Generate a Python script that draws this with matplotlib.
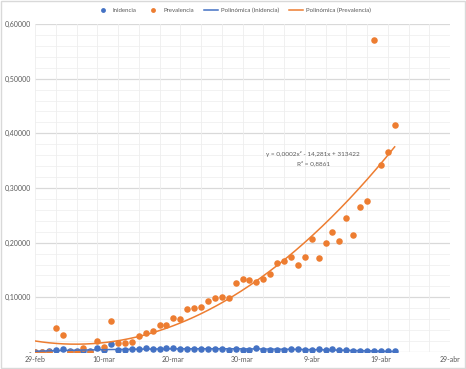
import numpy as np
import matplotlib
matplotlib.use("Agg")
import matplotlib.pyplot as plt
from matplotlib.lines import Line2D
from matplotlib.patches import Rectangle

plt.rcParams['font.family'] = ['Lato', 'DejaVu Sans']

# days since 29-feb (2020)
days = list(range(53))

incidencia = [0.0, 0.0, 0.001, 0.0037, 0.006, 0.001, 0.001, 0.002, 0.002, 0.0073,
              0.0037, 0.014, 0.004, 0.004, 0.005, 0.005, 0.007, 0.006, 0.005, 0.0066,
              0.0079, 0.0055, 0.0055, 0.0055, 0.0055, 0.006, 0.0061, 0.0049, 0.0043, 0.0049,
              0.0043, 0.0031, 0.0073, 0.0043, 0.0043, 0.0043, 0.0043, 0.0061, 0.0049, 0.0043,
              0.0043, 0.0061, 0.0043, 0.0061, 0.0043, 0.0031, 0.0024, 0.0024, 0.0018, 0.0018,
              0.0012, 0.0012, 0.0012]

prevalencia = [0.0, 0.0, 0.0, 0.0435, 0.032, 0.0, 0.0, 0.008, 0.0, 0.021,
               0.010, 0.056, 0.016, 0.016, 0.018, 0.029, 0.0355, 0.0385, 0.050, 0.050,
               0.062, 0.0605, 0.078, 0.080, 0.083, 0.094, 0.0985, 0.1015, 0.0985, 0.126,
               0.133, 0.1315, 0.128, 0.134, 0.142, 0.163, 0.1657, 0.1743, 0.1596, 0.1731,
               0.2067, 0.1725, 0.1988, 0.2202, 0.2024, 0.2446, 0.2135, 0.2648, 0.2765, 0.571,
               0.342, 0.366, 0.415]

tick_days = [0, 10, 20, 30, 40, 50, 60]
tick_labels = ["29-feb", "10-mar", "20-mar", "30-mar", "9-abr", "19-abr", "29-abr"]
y_ticks = [0.0, 0.1, 0.2, 0.3, 0.4, 0.5, 0.6]
y_labels = ["-", "0,10000", "0,20000", "0,30000", "0,40000", "0,50000", "0,60000"]

legend_labels = ["Inidencia", "Prevalencia", "Polinómica (Inidencia)", "Polinómica (Prevalencia)"]
equation_text = "y = 0,0002x² - 14,281x + 313422"
r2_text = "R² = 0,8861"

BLUE = "#4472C4"
ORANGE = "#ED7D31"
TXT = "#595959"

fig = plt.figure(figsize=(4.66, 3.69), dpi=100)
ax = fig.add_axes([35/466, 17/369, 415/466, 328/369])

x = np.array(days, dtype=float)
# gridlines
for v in np.arange(0, 0.6001, 0.02):
    major = abs(round(v / 0.1) * 0.1 - v) < 1e-9
    ax.axhline(v, color="#d9d9d9" if major else "#f0f0f0", lw=0.9 if major else 0.6, zorder=0)
for d in range(0, 61, 3):
    ax.axvline(d, color="#eeeeee", lw=0.6, zorder=0)

ax.plot(x, incidencia, 'o', color=BLUE, ms=4.7, mew=0, zorder=3)
ax.plot(x, prevalencia, 'o', color=ORANGE, ms=4.7, mew=0, zorder=4)

xf = np.linspace(x[0], x[-1], 200)
ci = np.polyfit(x, incidencia, 2)
cp = np.polyfit(x, prevalencia, 2)
ax.plot(xf, np.polyval(ci, xf), color=BLUE, lw=1.1, zorder=5)
ax.plot(xf, np.polyval(cp, xf), color=ORANGE, lw=1.1, zorder=5)

ax.set_xlim(0, 60)
ax.set_ylim(0, 0.6)
ax.set_xticks(tick_days)
ax.set_xticklabels(tick_labels, fontsize=5, color=TXT)
ax.set_yticks(y_ticks)
ax.set_yticklabels(y_labels, fontsize=5, color=TXT)
ax.tick_params(length=0, pad=3)
for s in ax.spines.values():
    s.set_visible(False)
ax.set_facecolor("none")

ax.text(40.2, 0.3615, equation_text, fontsize=4.6, color=TXT, ha="center", va="center")
ax.text(40.2, 0.345, r2_text, fontsize=4.6, color=TXT, ha="center", va="center")

handles = [
    Line2D([], [], marker='o', ls='none', color=BLUE, ms=3.5, mew=0),
    Line2D([], [], marker='o', ls='none', color=ORANGE, ms=3.5, mew=0),
    Line2D([], [], color=BLUE, lw=1.1),
    Line2D([], [], color=ORANGE, lw=1.1),
]
fig.legend(handles, legend_labels, loc="center", bbox_to_anchor=(0.5, 1 - 10/369), ncol=4,
           frameon=False, fontsize=4.4, labelcolor=TXT, handlelength=2.4, columnspacing=1.6,
           handletextpad=0.4)

fig.patches.append(Rectangle((0.002, 0.003), 0.995, 0.994, transform=fig.transFigure,
                             fill=False, edgecolor="#d9d9d9", lw=1))

fig.savefig("out.png", dpi=100)
